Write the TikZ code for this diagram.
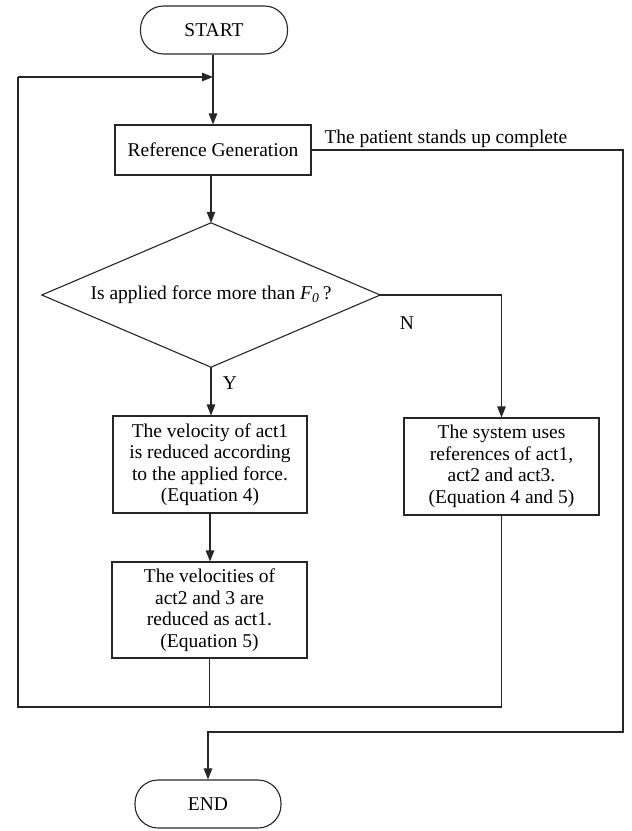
\documentclass[tikz,border=0pt]{standalone}
\usepackage{fontspec}
\setmainfont{Liberation Serif}
\usetikzlibrary{arrows.meta,calc}
\begin{document}
\begin{tikzpicture}[x=1pt,y=-1pt,
  every node/.style={font=\fontsize{19.5}{21.5}\selectfont},
  ln/.style={line width=1.1pt,draw=black!85},
  arr/.style={ln,-{Triangle[length=11pt,width=8.5pt]}},
  term/.style={ln,rectangle,rounded corners=23pt,inner sep=0pt},
  proc/.style={ln,rectangle,inner sep=0pt,align=center},
  dec/.style={rectangle,inner sep=0pt,minimum width=338pt,minimum height=144pt}]
\useasboundingbox (0,0) rectangle (632,831);
\node[term,minimum width=147pt,minimum height=48pt] (start) at (214,30) {START};
\node[proc,minimum width=196pt,minimum height=50pt] (ref) at (213,150) {Reference Generation};
\node[dec] (dec) at (211,295) {Is applied force more than \textit{F}\textsubscript{\textit{0}}\,?};
\draw[ln] (dec.north) -- (dec.east) -- (dec.south) -- (dec.west) -- cycle;
\node[proc,minimum width=194pt,minimum height=97pt] (b1) at (210,464.5) {The velocity of act1\\is reduced according\\to the applied force.\\(Equation 4)};
\node[proc,minimum width=195pt,minimum height=96pt] (b2) at (209.5,610) {The velocities of\\act2 and 3 are\\reduced as act1.\\(Equation 5)};
\node[proc,minimum width=195pt,minimum height=97pt] (rb) at (501.5,466.5) {The system uses\\references of act1,\\act2 and act3.\\(Equation 4 and 5)};
\node[term,minimum width=146pt,minimum height=48pt] (endn) at (208,804) {END};
\node[anchor=base west] (lab) at (321,143) {The patient stands up complete};
\node (ylab) at (230,383) {Y};
\node (nlab) at (407,323) {N};
\coordinate (bl) at (18,707);
\coordinate (tl) at (18,77);
\coordinate (r1) at (623,732);
\draw[arr] (ref.north |- start.south) -- (ref.north);
\draw[arr] (dec.north |- ref.south) -- (dec.north);
\draw[arr] (dec.south) -- (dec.south |- b1.north);
\draw[arr] (dec.east) -| (rb.north);
\draw[arr] (b1.south) -- (b1.south |- b2.north);
\draw[ln] (b2.south) -- (b2.south |- bl);
\draw[ln] (rb.south) |- (bl) -- (tl);
\draw[arr] (tl) -- (tl -| ref.north);
\draw[arr] (ref.east) -| (r1) -| (endn.north);
\end{tikzpicture}
\end{document}
